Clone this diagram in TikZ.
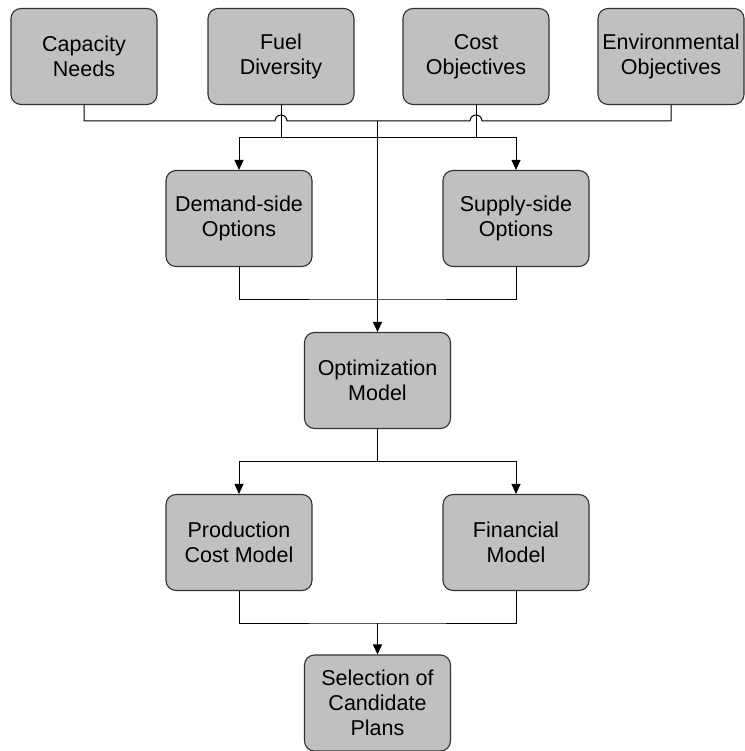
\documentclass[tikz,border=0pt]{standalone}
\usepackage{fontspec}
\setmainfont{Liberation Sans}
\usetikzlibrary{arrows.meta}
\definecolor{boxfill}{RGB}{192,192,192}
\definecolor{boxline}{RGB}{50,50,50}
\begin{document}
\begin{tikzpicture}[x=1pt, y=-1pt,
    box/.style={draw=boxline, line width=1.1pt, fill=boxfill, rounded corners=10pt,
      minimum width=146pt, minimum height=96pt, inner sep=2pt, align=center,
      font=\fontsize{21.5}{25}\selectfont},
    link/.style={line width=1pt},
    arrow/.style={line width=1pt, -{Triangle[length=10pt,width=9pt]}}]
	  \useasboundingbox (0,0) rectangle (744,751);
	  \node[box] (cap) at (84,56.5) {Capacity\\Needs};
	  \node[box] (fuel) at (281,56.5) {Fuel\\Diversity};
	  \node[box] (cost) at (476,56.5) {Cost\\Objectives};
	  \node[box] (env) at (671,56.5) {Environmental\\Objectives};
	  \node[box] (dem) at (239,218.5) {Demand-side\\Options};
	  \node[box] (sup) at (516,218.5) {Supply-side\\Options};
	  \node[box] (opt) at (377.5,380.5) {Optimization\\Model};
	  \node[box] (prod) at (239,542.5) {Production\\Cost Model};
	  \node[box] (fin) at (516,542.5) {Financial\\Model};
	  \node[box] (sel) at (377.5,703) {Selection of\\Candidate\\Plans};
	  
	  \coordinate (bus) at (377.5,121);
	  \coordinate (fork) at (377.5,138);
	  \coordinate (join) at (377.5,299);
	  \coordinate (split) at (377.5,461);
	  \coordinate (merge) at (377.5,623);
	  
	  % objectives bus, hopping over the two side feeds
	  \draw[link] (cap.south) |- ([xshift=-6pt]fuel.south |- bus)
	    arc[start angle=180, end angle=0, radius=6pt]
	    -- ([xshift=-6pt]cost.south |- bus)
	    arc[start angle=180, end angle=0, radius=6pt]
	    -| (env.south);
	  \draw[arrow] (bus) -- (opt.north);
	  
	  \draw[arrow] (fuel.south) |- (dem.north |- fork) -- (dem.north);
	  \draw[arrow] (cost.south) |- (sup.north |- fork) -- (sup.north);
	  \draw[link] (fuel.south |- fork) -- (cost.south |- fork);
	  
	  \draw[link] (dem.south) |- (join) -| (sup.south);
	  
	  \draw[link] (opt.south) -- (split);
	  \draw[arrow] (split) -| (prod.north);
	  \draw[arrow] (split) -| (fin.north);
	  
	  \draw[link] (prod.south) |- (merge) -| (fin.south);
	  \draw[arrow] (merge) -- (sel.north);
	\end{tikzpicture}
\end{document}
